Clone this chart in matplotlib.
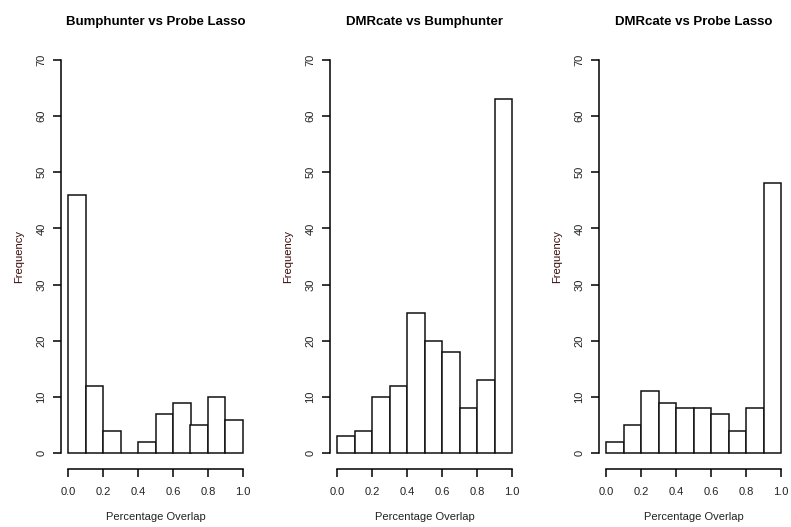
import numpy as np
import matplotlib.pyplot as plt

plt.rcParams['font.family'] = ['Liberation Sans', 'DejaVu Sans']

titles = ["Bumphunter vs Probe Lasso", "DMRcate vs Bumphunter", "DMRcate vs Probe Lasso"]
bin_edges = [0.0, 0.1, 0.2, 0.3, 0.4, 0.5, 0.6, 0.7, 0.8, 0.9, 1.0]
bump_vs_lasso = [46, 12, 4, 0, 2, 7, 9, 5, 10, 6]
dmr_vs_bump = [3, 4, 10, 12, 25, 20, 18, 8, 13, 63]
dmr_vs_lasso = [2, 5, 11, 9, 8, 8, 7, 4, 8, 48]
xticks = [0.0, 0.2, 0.4, 0.6, 0.8, 1.0]
yticks = [0, 10, 20, 30, 40, 50, 60, 70]

counts = [bump_vs_lasso, dmr_vs_bump, dmr_vs_lasso]
lefts_px = [61, 330, 599]

fig = plt.figure(figsize=(7.91, 5.27), dpi=100)
W, H = 791.0, 527.0

for i in range(3):
    ax = fig.add_axes([lefts_px[i] / W, (H - 469) / H, 189 / W, 425 / H])
    edges = np.array(bin_edges)
    ax.bar(edges[:-1], counts[i], width=np.diff(edges), align='edge',
           facecolor='white', edgecolor='#111111', linewidth=1.1)
    ax.set_xlim(-0.04, 1.04)
    ax.set_ylim(-2.8, 72.8)
    for s in ['top', 'right']:
        ax.spines[s].set_visible(False)
    ax.spines['left'].set_bounds(0, 70)
    ax.spines['bottom'].set_bounds(0, 1)
    ax.spines['left'].set_linewidth(1.1)
    ax.spines['bottom'].set_linewidth(1.1)
    ax.set_xticks(xticks)
    ax.set_xticklabels(["%.1f" % v for v in xticks], fontsize=8, color='#222222')
    ax.set_yticks(yticks)
    ax.set_yticklabels([str(v) for v in yticks], fontsize=8, rotation=90, va='center',
                       color='#222222')
    ax.tick_params(direction='out', length=5.5, width=1.1)
    ax.tick_params(axis='x', pad=7.5)
    ax.tick_params(axis='y', pad=5)
    ax.set_title(titles[i], fontsize=9.5, fontweight='bold', pad=14)
    ax.set_xlabel("Percentage Overlap", fontsize=8, color='#222222', labelpad=11)
    ax.set_ylabel("Frequency", fontsize=8, color='#3a0a0a', labelpad=9)

plt.savefig("out.png", dpi=100)
